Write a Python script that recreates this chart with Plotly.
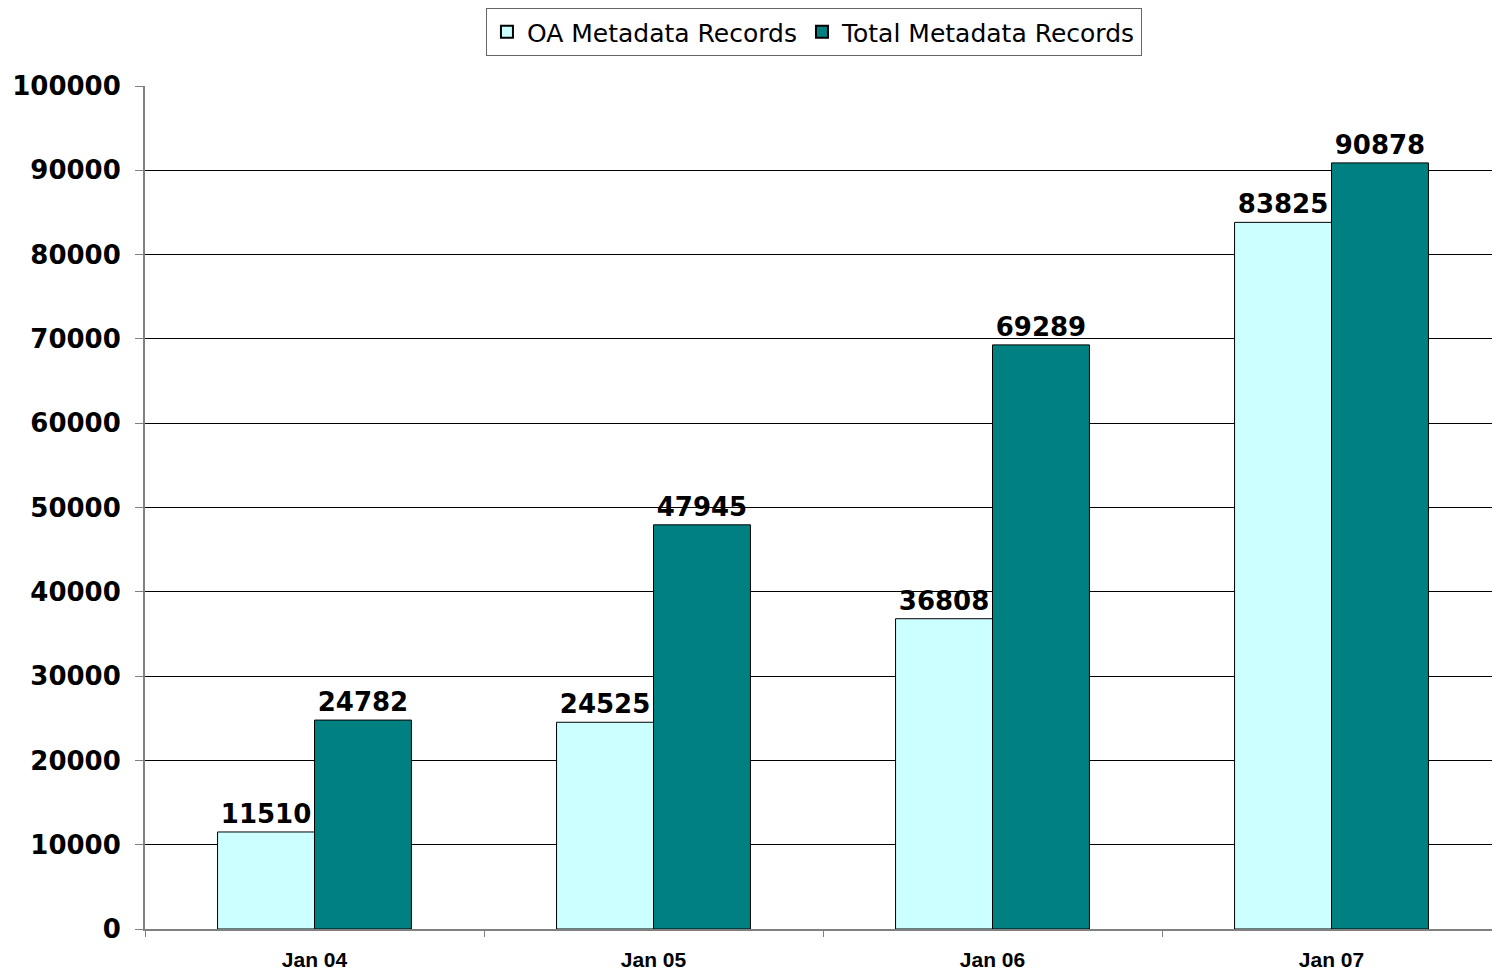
import plotly.graph_objects as go

categories = ["Jan 04", "Jan 05", "Jan 06", "Jan 07"]
oa_records = [11510, 24525, 36808, 83825]
total_records = [24782, 47945, 69289, 90878]
y_ticks = [0, 10000, 20000, 30000, 40000, 50000, 60000, 70000, 80000, 90000, 100000]

label_font = dict(family="DejaVu Sans", size=26, color="black")

fig = go.Figure()
fig.add_trace(go.Bar(
    x=categories, y=oa_records, name="OA Metadata Records",
    marker=dict(color="#CCFFFF", line=dict(color="black", width=1)),
    text=[str(v) for v in oa_records], textposition="outside",
    textfont=label_font, texttemplate="<b>%{text}</b>", cliponaxis=False,
))
fig.add_trace(go.Bar(
    x=categories, y=total_records, name="Total Metadata Records",
    marker=dict(color="#008080", line=dict(color="black", width=1)),
    text=[str(v) for v in total_records], textposition="outside",
    textfont=label_font, texttemplate="<b>%{text}</b>", cliponaxis=False,
))

fig.update_layout(
    width=1500, height=973,
    margin=dict(l=137, r=7, t=78, b=52, autoexpand=False),
    plot_bgcolor="white", paper_bgcolor="white",
    barmode="group", bargap=0.428, bargroupgap=0,
    showlegend=True,
    legend=dict(
        orientation="h", xref="container", yref="container",
        x=0.5373, xanchor="center", y=1.0, yanchor="top",
        bordercolor="#666666", borderwidth=1,
        font=dict(family="DejaVu Sans", size=25, color="black"),
        itemsizing="constant", traceorder="normal", itemwidth=30,
    ),
    xaxis=dict(
        tickson="boundaries", ticks="outside", ticklen=6, tickcolor="#808080",
        showline=True, linecolor="#808080", linewidth=2,
        tickfont=dict(family="Liberation Sans", size=21, color="black", weight="bold"),
        showgrid=False, ticklabelstandoff=11,
    ),
    yaxis=dict(
        range=[0, 100000], tickvals=y_ticks,
        ticktext=[f"<b>{v}</b>" for v in y_ticks],
        ticks="outside", ticklen=8, tickcolor="#808080",
        showline=True, linecolor="#808080", linewidth=2,
        showgrid=True, gridcolor="black", gridwidth=1,
        tickfont=dict(family="DejaVu Sans", size=26, color="black"),
        zeroline=False, ticklabelstandoff=9,
    ),
)

fig.write_html("out.html")
